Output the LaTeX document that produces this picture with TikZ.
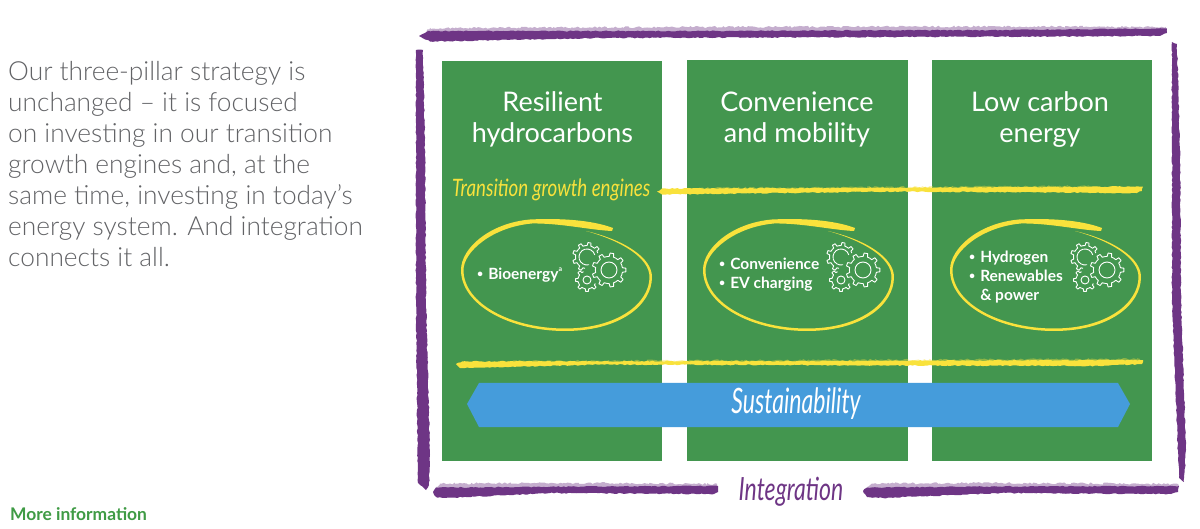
\documentclass[tikz,border=0pt]{standalone}
\usepackage{fontspec}
\setmainfont{Lato}[UprightFont=* Light,BoldFont=* Bold,ItalicFont=* Light Italic]
\newfontfamily\regfont{Lato}
\usetikzlibrary{decorations.pathmorphing,calc}
\definecolor{pgreen}{HTML}{43964F}
\definecolor{pblue}{HTML}{459CDB}
\definecolor{ppurple}{HTML}{6E3585}
\definecolor{pyellow}{HTML}{F9E23C}
\definecolor{pgrey}{HTML}{626366}
\definecolor{pgreentxt}{HTML}{3F9B45}
\newcommand{\bul}{\raisebox{.12em}{\fontsize{10.5}{10.5}\selectfont •}\hspace{.32em}}
\newcommand{\gearshape}[7]{% cx cy R r n first last
  \pgfmathsetmacro{\gs}{360/#5}
  \foreach \k in {#6,...,#7}{
    \pgfmathsetmacro{\ta}{\k*\gs-.5*\gs}
    \pgfmathsetmacro{\tb}{\k*\gs-.24*\gs}
    \pgfmathsetmacro{\tc}{\k*\gs-.15*\gs}
    \pgfmathsetmacro{\td}{\k*\gs+.15*\gs}
    \pgfmathsetmacro{\te}{\k*\gs+.24*\gs}
    \pgfmathsetmacro{\tf}{\k*\gs+.5*\gs}
    \draw[gearline] ($(#1,#2)+(\ta:#4)$) -- ($(#1,#2)+(\tb:#4)$) -- ($(#1,#2)+(\tc:#3)$) -- ($(#1,#2)+(\td:#3)$) -- ($(#1,#2)+(\te:#4)$) -- ($(#1,#2)+(\tf:#4)$);
  }
}
\tikzset{
  x=1pt,y=-1pt,
  pillar/.style={fill=pgreen,draw=none},
  brush/.style={fill=#1,draw=none,decorate,decoration={random steps,segment length=2.5pt,amplitude=.55pt}},
  fringe/.style={fill=#1,fill opacity=.4,draw=none,decorate,decoration={random steps,segment length=2pt,amplitude=1pt}},
  titletext/.style={text=white,align=center,font=\fontsize{27}{31.5}\regfont},
  itemtext/.style={text=white,align=left,anchor=west,inner sep=0pt,font=\fontsize{15.5}{19}\selectfont\bfseries},
  handtext/.style 2 args={font=\fontsize{#1}{#1}\regfont\itshape,transform shape,xscale=#2,inner sep=0pt},
  gearline/.style={draw=white,line width=.9pt,line join=round},
  gears/.pic={
    \gearshape{0}{0}{17}{13.6}{9}{0}{8}
    \draw[gearline] (0,0) circle[radius=8];
    \gearshape{-22}{-13}{14.5}{11.5}{9}{3}{8}
    \draw[gearline] (-22,-13) ++(75:8) arc[start angle=75,end angle=345,radius=8];
    \gearshape{-22}{10}{11.5}{9}{8}{1}{5}
    \draw[gearline] (-22,10) circle[radius=4];
  },
  ring/.pic={
    \fill[pyellow] (613,228) .. controls (592,220) and (560,218) .. (530,219.5)
      .. controls (490,223) and (461,248) .. (461,270)
      .. controls (461,305) and (510,331) .. (565,331)
      .. controls (620,331) and (652,305) .. (652,277)
      .. controls (652,258) and (625,240) .. (586,231)
      .. controls (622,241) and (649.5,258) .. (649.5,277)
      .. controls (649.5,303) and (618,328.5) .. (565,328.5)
      .. controls (512,328.5) and (463.5,304) .. (463.5,270)
      .. controls (463.5,252) and (492,227) .. (532,223.5)
      .. controls (560,223) and (590,230) .. (612,231) -- cycle;
  },
}
\begin{document}
\begin{tikzpicture}
\useasboundingbox (0,0) rectangle (1200,529);
\fill[white] (0,0) rectangle (1200,529);

% intro text
\node[anchor=north west,inner sep=0pt,align=left,text=pgrey,font=\fontsize{26.3}{31}\selectfont] (intro) at (8,61)
 {Our three-pillar strategy is\\unchanged -- it is focused\\on investing in our transition\\growth engines and, at the\\same time, investing in today’s\\energy system. And integration\\connects it all.};
\node[anchor=west,inner sep=0pt,text=pgreentxt,font=\fontsize{17.4}{20}\selectfont\bfseries] (more) at (10,514) {More information};

% pillars
\fill[pillar] (442,61) rectangle (662,461);
\fill[pillar] (687,60) rectangle (908,461);
\fill[pillar] (932,60) rectangle (1152,461);

% titles
\node[titletext] (t1) at (552.5,119.5) {Resilient\\hydrocarbons};
\node[titletext] (t2) at (797,119.5) {Convenience\\and mobility};
\node[titletext] (t3) at (1040,119.5) {Low carbon\\energy};

% purple brush frame
\path[fringe=ppurple] (425,33) -- (430,28) -- (700,27) -- (1000,26.5) -- (1166,27) -- (1166,33) -- (425,38) -- cycle;
\path[brush=ppurple] (419,36) -- (428,31) -- (700,31) -- (1000,30) -- (1167,28.5) -- (1167,33) -- (1160,36) -- (900,37) -- (600,38) -- (430,41.5) -- cycle;
\path[brush=ppurple] (416,50) -- (423,50) -- (425,150) -- (426,300) -- (430,455) -- (429,485) -- (426,490) -- (418,483) -- (416,300) -- cycle;
\path[brush=ppurple] (1172,42) -- (1177,44) -- (1180,150) -- (1181,300) -- (1186,450) -- (1184,482) -- (1179,478) -- (1172,300) -- cycle;
\path[fringe=ppurple] (436,487) -- (440,483.5) -- (600,483) -- (717,484) -- (717,490) -- (436,492) -- cycle;
\path[brush=ppurple] (433,492) -- (436,487.5) -- (600,486.5) -- (718,486) -- (718,492) -- (714,494) -- (550,493) -- (445,498) -- (436,497) -- cycle;
\path[fringe=ppurple] (867,487) -- (872,483.5) -- (1000,483) -- (1178,484) -- (1178,490) -- (867,492) -- cycle;
\path[brush=ppurple] (863,491) -- (867,487.5) -- (1000,486.5) -- (1179,486) -- (1178,492) -- (1171,494) -- (1000,493) -- (883,498) -- (867,497) -- cycle;

% yellow strokes
\path[fringe=pyellow] (700,188) -- (1100,186) -- (1100,190) -- (700,191) -- cycle;
\path[brush=pyellow] (657,191.5) -- (662,188.5) -- (850,188) -- (1143,186.5) -- (1142,191) -- (1135,193) -- (900,191.5) -- (662,194.5) -- cycle;
\path[fringe=pyellow] (500,361) -- (1140,359) -- (1140,362) -- (500,364) -- cycle;
\path[brush=pyellow] (456,364) -- (462,361.5) -- (800,361) -- (1143,360) -- (1142,364) -- (1100,366) -- (600,364.5) -- (470,368) -- (460,368) -- cycle;

\node[handtext={24}{.78},text=pyellow,anchor=west] (tge) at (452,190) {Transition growth engines};

% rings and gears
\pic at (0,0) {ring};
\pic at (242,0) {ring};
\pic at (489,0) {ring};
\pic at (609,270) {gears};
\pic at (863,270) {gears};
\pic at (1107,270) {gears};

\node[itemtext] (i1) at (477,275) {\bul Bioenergy\raisebox{.55em}{\fontsize{7}{8}\selectfont a}};
\node[itemtext] (i2) at (719,274.5) {\bul Convenience\\\bul EV charging};
\node[itemtext] (i3) at (969,277) {\bul Hydrogen\\\bul Renewables\\\phantom{\bul}\& power};

% sustainability band
\fill[pblue] (467,404) -- (479,383) -- (1118,383) -- (1130,404) -- (1118,427) -- (479,427) -- cycle;
\node[handtext={35}{.66},text=white] (sus) at (796,404) {Sustainability};
\node[handtext={32}{.72},text=ppurple] (int) at (791,492) {Integration};
\end{tikzpicture}
\end{document}
